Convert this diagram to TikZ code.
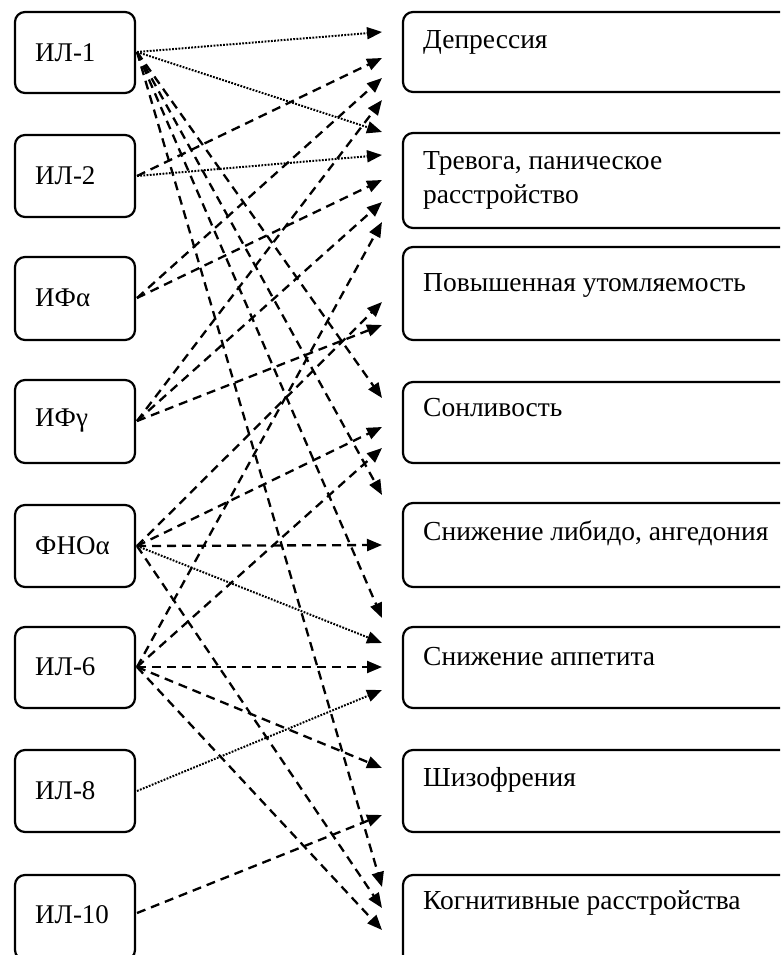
\documentclass[tikz,border=0pt]{standalone}
\usepackage{fontspec}
\setmainfont{Liberation Serif}
\usetikzlibrary{arrows.meta}
\begin{document}
\begin{tikzpicture}[x=1pt,y=-1pt,
  lbox/.style={draw, line width=2.2pt, rounded corners=10pt},
  ltext/.style={anchor=west, font=\fontsize{27}{30}\selectfont, inner sep=0pt},
  rtext/.style={anchor=west, font=\fontsize{27.5}{34}\selectfont, inner sep=0pt, align=left},
  tip/.style={-{Triangle[length=15pt,width=12pt]}},
  dsh/.style={tip, line width=2.3pt, dash pattern=on 9pt off 6pt},
  dtt/.style={tip, line width=2pt, dash pattern=on 1.8pt off 1.4pt}
]
\useasboundingbox (0,0) rectangle (780,955);
\clip (0,0) rectangle (780,955);
% left boxes
\foreach \t/\b in {12/93, 135/217, 257/340, 380/463, 505/587, 627/708, 750/832, 875/960}{
  \draw[lbox] (15,\t) rectangle (135,\b);
}
\node[ltext] (L1) at (35,53) {ИЛ-1};
\node[ltext] (L2) at (35,176) {ИЛ-2};
\node[ltext] (L3) at (35,298) {ИФα};
\node[ltext] (L4) at (35,421) {ИФγ};
\node[ltext] (L5) at (35,546) {ФНОα};
\node[ltext] (L6) at (35,667) {ИЛ-6};
\node[ltext] (L7) at (35,791) {ИЛ-8};
\node[ltext] (L8) at (35,915) {ИЛ-10};
\coordinate (S1) at (137,52);
\coordinate (S2) at (137,176);
\coordinate (S3) at (137,298);
\coordinate (S4) at (137,421);
\coordinate (S5) at (137,546);
\coordinate (S6) at (137,667);
\coordinate (S7) at (137,791);
\coordinate (S8) at (137,913);
% right boxes
\foreach \t/\b in {12/92, 133/228, 247/340, 382/463, 503/587, 627/708, 750/832, 875/965}{
  \draw[lbox] (403,\t) rectangle (830,\b);
}
\node[rtext] (R1) at (423,42) {Депрессия};
\node[rtext] (R2) at (423,180) {Тревога, паническое\\расстройство};
\node[rtext] (R3) at (423,285) {Повышенная утомляемость};
\node[rtext] (R4) at (423,408) {Сонливость};
\node[rtext] (R5) at (423,533) {Снижение либидо, ангедония};
\node[rtext] (R6) at (423,657) {Снижение аппетита};
\node[rtext] (R7) at (423,780) {Шизофрения};
\node[rtext] (R8) at (423,903) {Когнитивные расстройства};
% arrow ends
\foreach \y in {32,58,78,100,132,155,180,202,222,302,325,398,427,448,495,545,618,643,667,690,768,815,887,908,930}{
  \coordinate (T\y) at (382,\y);
}
% ИЛ-1
\draw[dtt] (S1) -- (T32);
\draw[dtt] (S1) -- (T132);
\draw[dsh] (S1) -- (T398);
\draw[dsh] (S1) -- (T495);
\draw[dsh] (S1) -- (T618);
\draw[dsh] (S1) -- (T887);
% ИЛ-2
\draw[dtt] (S2) -- (T155);
\draw[dsh] (S2) -- (T58);
% ИФα
\draw[dsh] (S3) -- (T78);
\draw[dsh] (S3) -- (T180);
% ИФγ
\draw[dsh] (S4) -- (T100);
\draw[dsh] (S4) -- (T202);
\draw[dsh] (S4) -- (T325);
% ФНОα
\draw[dsh] (S5) -- (T302);
\draw[dsh] (S5) -- (T427);
\draw[dsh] (S5) -- (T545);
\draw[dtt] (S5) -- (T643);
\draw[dsh] (S5) -- (T908);
% ИЛ-6
\draw[dsh] (S6) -- (T222);
\draw[dsh] (S6) -- (T448);
\draw[dsh] (S6) -- (T667);
\draw[dsh] (S6) -- (T768);
\draw[dsh] (S6) -- (T930);
% ИЛ-8
\draw[dtt] (S7) -- (T690);
% ИЛ-10
\draw[dsh] (S8) -- (T815);
\end{tikzpicture}
\end{document}
